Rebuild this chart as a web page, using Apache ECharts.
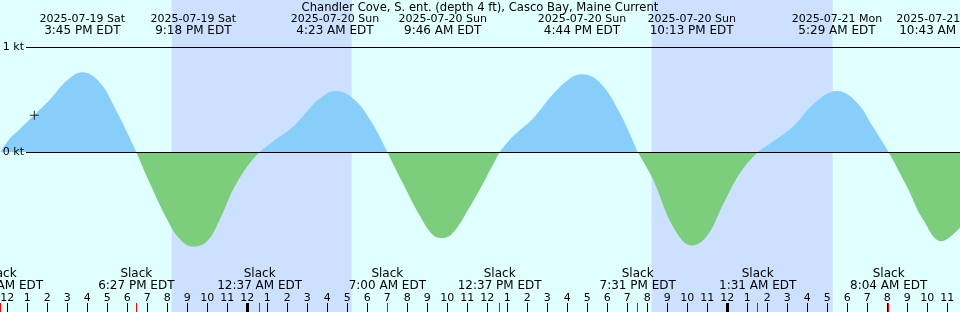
<!DOCTYPE html>
<html>
<head>
<meta charset="utf-8">
<script src="https://cdn.jsdelivr.net/npm/echarts@6/dist/echarts.min.js"></script>
<style>
html,body{margin:0;padding:0;background:#e0ffff;}
#chart{width:960px;height:312px;}
</style>
</head>
<body>
<div id="chart"></div>
<script>
// Times are hours since 2025-07-19 00:00 EDT
const axisStart = 11.6333;
const axisEnd = 59.6333;

const tideHours = [11.65, 12.133, 12.633, 13.283, 14.133, 14.983, 15.75, 16.633, 17.483, 18.45,
  19.133, 19.983, 20.633, 21.3, 21.983, 22.633, 23.283, 23.983, 24.617, 25.283,
  26.283, 27.133, 27.633, 28.383, 29.283, 30.133, 31.0, 31.783, 32.633, 33.283,
  33.767, 34.283, 35.133, 35.983, 36.617, 37.283, 38.283, 39.283, 40.133, 40.733,
  41.633, 42.633, 43.517, 44.283, 45.283, 46.217, 46.983, 47.783, 48.633, 49.517,
  50.283, 51.283, 52.283, 53.483, 54.483, 55.283, 56.067, 56.983, 57.783, 58.717, 59.633];
const tideKt = [0, 0.13, 0.22, 0.34, 0.50, 0.68, 0.76, 0.66, 0.38, 0,
  -0.30, -0.64, -0.83, -0.90, -0.85, -0.64, -0.36, -0.14, 0, 0.10,
  0.24, 0.42, 0.51, 0.58, 0.51, 0.31, 0, -0.30, -0.61, -0.79,
  -0.82, -0.77, -0.52, -0.23, 0, 0.15, 0.32, 0.55, 0.70, 0.74,
  0.66, 0.37, 0, -0.26, -0.71, -0.89, -0.80, -0.50, -0.20, 0,
  0.10, 0.24, 0.45, 0.58, 0.47, 0.24, 0, -0.33, -0.64, -0.85, -0.72];

const eventHours = [15.75, 21.3, 28.383, 33.767, 40.733, 46.217, 53.483, 58.717];
const eventDates = ["2025-07-19 Sat", "2025-07-19 Sat", "2025-07-20 Sun", "2025-07-20 Sun",
  "2025-07-20 Sun", "2025-07-20 Sun", "2025-07-21 Mon", "2025-07-21 Mon"];
const eventClock = ["3:45 PM EDT", "9:18 PM EDT", "4:23 AM EDT", "9:46 AM EDT",
  "4:44 PM EDT", "10:13 PM EDT", "5:29 AM EDT", "10:43 AM EDT"];

const slackHours = [11.667, 18.45, 24.617, 31.0, 36.617, 43.517, 49.517, 56.067];
const slackClock = ["11:40 AM EDT", "6:27 PM EDT", "12:37 AM EDT", "7:00 AM EDT",
  "12:37 PM EDT", "7:31 PM EDT", "1:31 AM EDT", "8:04 AM EDT"];

const nightStart = [20.217, 44.217];
const nightEnd = [29.217, 53.267];

const hourTicks = [12, 13, 14, 15, 16, 17, 18, 19, 20, 21, 22, 23, 24, 25, 26, 27, 28, 29, 30, 31,
  32, 33, 34, 35, 36, 37, 38, 39, 40, 41, 42, 43, 44, 45, 46, 47, 48, 49, 50, 51, 52, 53, 54, 55,
  56, 57, 58, 59];
const hourLabels = ["12", "1", "2", "3", "4", "5", "6", "7", "8", "9", "10", "11",
  "12", "1", "2", "3", "4", "5", "6", "7", "8", "9", "10", "11",
  "12", "1", "2", "3", "4", "5", "6", "7", "8", "9", "10", "11",
  "12", "1", "2", "3", "4", "5", "6", "7", "8", "9", "10", "11"];
const midnightTicks = [24, 48];

const ktLevels = [0, 1];
const markerHour = 13.35, markerKt = 0.35;

const titleText = "Chandler Cove, S. ent. (depth 4 ft), Casco Bay, Maine Current";

const FONT = 'DejaVu Sans';
const FS = 11;
const colors = {
  bg: '#e0ffff', night: '#cce0ff', flood: '#87cefa', ebb: '#7ccd7c', fg: '#000000', slack: '#ff0000'
};

function findIdx(arr, v) {
  for (let i = 0; i < arr.length; i++) if (Math.abs(arr[i] - v) < 1e-6) return i;
  return -1;
}

const floodData = tideHours.map((h, i) => [h, tideKt[i] >= 0 ? tideKt[i] : null]);
const ebbData = tideHours.map((h, i) => [h, tideKt[i] <= 0 ? tideKt[i] : null]);

const yMax = 152 / 105, yMin = -160 / 105;

const noLine = {show: false, onZero: false};
const richText = {
  d: {fontFamily: FONT, fontSize: 11, lineHeight: 12, color: colors.fg},
  t: {fontFamily: FONT, fontSize: 12, lineHeight: 12, color: colors.fg}
};

const chart = echarts.init(document.getElementById('chart'), null, {renderer: 'canvas'});
const option = {
  backgroundColor: colors.bg,
  animation: false,
  title: {
    text: titleText, left: 'center', top: 2, padding: 0,
    textStyle: {fontFamily: FONT, fontSize: 11.6, fontWeight: 'normal', color: colors.fg, lineHeight: 12}
  },
  grid: [
    {left: 0, right: 0, top: 0, bottom: 0, containLabel: false, outerBoundsMode: 'none'},
    {left: 26, right: 0, top: 0.5, bottom: -0.5, containLabel: false, outerBoundsMode: 'none'}
  ],
  xAxis: [
    { // hour ticks & labels
      type: 'value', gridIndex: 0, position: 'bottom', min: axisStart, max: axisEnd, z: 10,
      axisLine: noLine, splitLine: {show: false},
      axisTick: {show: true, inside: true, length: 9, customValues: hourTicks, lineStyle: {color: colors.fg, width: 1}},
      axisLabel: {show: true, inside: true, margin: 8, customValues: hourTicks,
        fontFamily: FONT, fontSize: FS, color: colors.fg,
        formatter: v => { const i = findIdx(hourTicks, v); return i >= 0 ? hourLabels[i] : ''; }}
    },
    { // midnight ticks
      type: 'value', gridIndex: 0, position: 'bottom', min: axisStart, max: axisEnd, z: 11,
      axisLine: noLine, splitLine: {show: false},
      axisTick: {show: true, inside: true, length: 9, customValues: midnightTicks, lineStyle: {color: colors.fg, width: 3}},
      axisLabel: {show: false}
    },
    { // slack ticks & labels
      type: 'value', gridIndex: 0, position: 'bottom', min: axisStart, max: axisEnd, z: 12,
      axisLine: noLine, splitLine: {show: false},
      axisTick: {show: true, inside: true, length: 9, customValues: slackHours, lineStyle: {color: colors.slack, width: 1}},
      axisLabel: {show: true, inside: true, margin: 20, customValues: slackHours,
        fontFamily: FONT, fontSize: 12, color: colors.fg, lineHeight: 12, align: 'center',
        formatter: v => { const i = findIdx(slackHours, v); return i >= 0 ? 'Slack\n' + slackClock[i] : ''; }}
    },
    { // max / min event labels on top
      type: 'value', gridIndex: 0, position: 'top', min: axisStart, max: axisEnd, z: 10,
      axisLine: noLine, splitLine: {show: false}, axisTick: {show: false},
      axisLabel: {show: true, inside: true, margin: 13, customValues: eventHours,
        fontFamily: FONT, fontSize: FS, color: colors.fg, lineHeight: 12, align: 'center', rich: richText,
        formatter: v => { const i = findIdx(eventHours, v); return i >= 0 ? '{d|' + eventDates[i] + '}\n{t|' + eventClock[i] + '}' : ''; }}
    },
    {
      type: 'value', gridIndex: 1, min: axisStart, max: axisEnd, show: false, axisLine: noLine
    }
  ],
  yAxis: [
    {type: 'value', gridIndex: 0, min: yMin, max: yMax, show: false, axisLine: noLine},
    {
      type: 'value', gridIndex: 1, min: yMin, max: yMax, z: 10,
      axisLine: noLine, axisTick: {show: false}, splitLine: {show: false},
      axisLabel: {show: true, margin: 2, customValues: ktLevels, fontFamily: FONT, fontSize: FS, color: colors.fg,
        formatter: v => v + ' kt'}
    }
  ],
  series: [
    {
      name: 'night', type: 'line', xAxisIndex: 0, yAxisIndex: 0, data: [], z: 1, silent: true,
      markArea: {
        silent: true,
        itemStyle: {color: colors.night, opacity: 1},
        data: nightStart.map((s, i) => [{xAxis: s}, {xAxis: nightEnd[i]}])
      }
    },
    {
      name: 'flood', type: 'line', xAxisIndex: 0, yAxisIndex: 0, z: 2, data: floodData,
      smooth: 0.4, showSymbol: false, connectNulls: false,
      lineStyle: {width: 0, color: colors.flood}, itemStyle: {color: colors.flood},
      areaStyle: {color: colors.flood, opacity: 1}
    },
    {
      name: 'levels', type: 'line', xAxisIndex: 4, yAxisIndex: 1, z: 3, data: [],
      markLine: {
        silent: true, symbol: ['none', 'none'], label: {show: false},
        lineStyle: {color: colors.fg, width: 1, type: 'solid'},
        data: ktLevels.map(k => ({yAxis: k}))
      }
    },
    {
      name: 'ebb', type: 'line', xAxisIndex: 0, yAxisIndex: 0, z: 4, data: ebbData,
      smooth: 0.4, showSymbol: false, connectNulls: false,
      lineStyle: {width: 0, color: colors.ebb}, itemStyle: {color: colors.ebb},
      areaStyle: {color: colors.ebb, opacity: 1}
    },
    {
      name: 'now', type: 'scatter', xAxisIndex: 0, yAxisIndex: 0, z: 5,
      data: [[markerHour, markerKt]],
      symbol: 'path://M0,5L10,5M5,0L5,10', symbolSize: 9,
      itemStyle: {color: 'none', borderColor: colors.fg, borderWidth: 1}
    }
  ]
};
chart.setOption(option);
</script>
</body>
</html>
